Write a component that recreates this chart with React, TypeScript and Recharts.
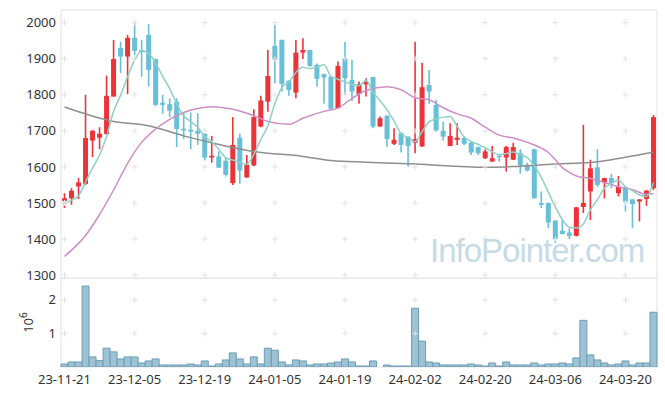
import { ComposedChart, Bar, Line, XAxis, YAxis, CartesianGrid, ReferenceDot } from 'recharts';

// trading days, 23-11-21 .. 24-03-26
const dates = [
  '23-11-21', '23-11-22', '23-11-23', '23-11-24', '23-11-27', '23-11-28', '23-11-29', '23-11-30',
  '23-12-01', '23-12-04', '23-12-05', '23-12-06', '23-12-07', '23-12-08', '23-12-11', '23-12-12',
  '23-12-13', '23-12-14', '23-12-15', '23-12-18', '23-12-19', '23-12-20', '23-12-21', '23-12-22',
  '23-12-26', '23-12-27', '23-12-28',
  '24-01-02', '24-01-03', '24-01-04', '24-01-05', '24-01-08', '24-01-09', '24-01-10', '24-01-11',
  '24-01-12', '24-01-15', '24-01-16', '24-01-17', '24-01-18', '24-01-19', '24-01-22', '24-01-23',
  '24-01-24', '24-01-25', '24-01-26', '24-01-29', '24-01-30', '24-01-31',
  '24-02-01', '24-02-02', '24-02-05', '24-02-06', '24-02-07', '24-02-08', '24-02-13', '24-02-14',
  '24-02-15', '24-02-16', '24-02-19', '24-02-20', '24-02-21', '24-02-22', '24-02-23', '24-02-26',
  '24-02-27', '24-02-28', '24-02-29',
  '24-03-04', '24-03-05', '24-03-06', '24-03-07', '24-03-08', '24-03-11', '24-03-12', '24-03-13',
  '24-03-14', '24-03-15', '24-03-18', '24-03-19', '24-03-20', '24-03-21', '24-03-22', '24-03-25',
  '24-03-26',
];

const opens = [
  1506, 1513, 1546, 1553, 1673, 1681, 1691, 1795, 1930, 1906, 1958, 1924, 1966, 1899, 1778, 1774,
  1780, 1706, 1703, 1700, 1692, 1626, 1629, 1617, 1555, 1681, 1571, 1604, 1712, 1781, 1935, 1952,
  1839, 1806, 1917, 1924, 1883, 1857, 1850, 1763, 1901, 1841, 1802, 1829, 1849, 1712, 1742, 1664,
  1694, 1684, 1667, 1657, 1827, 1772, 1700, 1658, 1675, 1680, 1667, 1655, 1624, 1615, 1631, 1626,
  1620, 1638, 1606, 1649, 1500, 1500, 1451, 1423, 1418, 1409, 1489, 1532, 1599, 1557, 1569, 1527,
  1544, 1510, 1504, 1511, 1541,
];
const highs = [
  1527, 1541, 1569, 1800, 1702, 1710, 1853, 1952, 1947, 1966, 2003, 1952, 1996, 1900, 1800, 1790,
  1790, 1749, 1751, 1749, 1693, 1686, 1643, 1624, 1738, 1692, 1633, 1760, 1797, 1924, 1994, 1953,
  1840, 1952, 1957, 1925, 1887, 1858, 1851, 1892, 1946, 1897, 1837, 1846, 1850, 1740, 1743, 1707,
  1695, 1685, 1947, 1889, 1869, 1786, 1726, 1721, 1721, 1684, 1670, 1656, 1649, 1658, 1632, 1658,
  1667, 1649, 1612, 1650, 1532, 1501, 1452, 1455, 1430, 1489, 1717, 1620, 1649, 1570, 1581, 1575,
  1545, 1511, 1511, 1536, 1744,
];
const lows = [
  1486, 1495, 1511, 1550, 1627, 1649, 1689, 1795, 1860, 1802, 1910, 1850, 1823, 1768, 1747, 1738,
  1655, 1677, 1649, 1661, 1618, 1612, 1597, 1573, 1550, 1553, 1569, 1602, 1710, 1753, 1832, 1809,
  1797, 1790, 1899, 1878, 1823, 1775, 1760, 1761, 1800, 1783, 1775, 1795, 1707, 1711, 1655, 1661,
  1640, 1601, 1638, 1655, 1775, 1698, 1673, 1657, 1661, 1661, 1633, 1633, 1622, 1614, 1615, 1587,
  1619, 1581, 1587, 1512, 1486, 1430, 1389, 1413, 1400, 1407, 1472, 1453, 1544, 1513, 1541, 1518,
  1476, 1430, 1449, 1492, 1536,
];
const closes = [
  1513, 1534, 1557, 1680, 1700, 1692, 1797, 1899, 1906, 1958, 1922, 1918, 1869, 1772, 1772, 1756,
  1705, 1701, 1698, 1692, 1626, 1631, 1598, 1578, 1661, 1590, 1606, 1738, 1784, 1852, 1897, 1830,
  1813, 1917, 1924, 1880, 1844, 1848, 1761, 1880, 1846, 1809, 1829, 1835, 1712, 1735, 1677, 1675,
  1661, 1658, 1677, 1821, 1809, 1701, 1684, 1686, 1681, 1664, 1640, 1638, 1643, 1624, 1627, 1655,
  1655, 1604, 1590, 1513, 1495, 1446, 1400, 1414, 1409, 1488, 1500, 1596, 1550, 1569, 1555, 1545,
  1504, 1497, 1510, 1534, 1738,
];

// volume, millions of shares
const volumes = [
  0.09, 0.15, 0.15, 2.41, 0.3, 0.19, 0.56, 0.45, 0.24, 0.3, 0.3, 0.12, 0.18, 0.24, 0.06, 0.06,
  0.06, 0.06, 0.09, 0.06, 0.18, 0.03, 0.09, 0.21, 0.42, 0.24, 0.09, 0.3, 0.09, 0.56, 0.5, 0.15,
  0.06, 0.21, 0.18, 0.06, 0.09, 0.09, 0.12, 0.15, 0.24, 0.15, 0.03, 0.03, 0.18, 0, 0.06, 0.03,
  0.03, 0.03, 1.75, 0.77, 0.15, 0.12, 0.06, 0.06, 0.06, 0.06, 0.09, 0.06, 0.03, 0.12, 0.03, 0.15,
  0.06, 0.06, 0.06, 0.12, 0.06, 0.09, 0.09, 0.12, 0.09, 0.27, 1.39, 0.36, 0.21, 0.12, 0.06, 0.09,
  0.18, 0.06, 0.12, 0.12, 1.63,
];

// moving averages
const ma5 = [
  1498, 1508, 1520, 1558, 1597, 1633, 1685, 1754, 1799, 1850, 1896, 1921, 1915, 1888, 1851, 1817,
  1775, 1741, 1726, 1710, 1684, 1670, 1649, 1625, 1619, 1612, 1607, 1635, 1676, 1714, 1775, 1820,
  1835, 1862, 1876, 1873, 1876, 1883, 1851, 1843, 1836, 1829, 1825, 1840, 1806, 1784, 1758, 1727,
  1692, 1681, 1670, 1698, 1725, 1733, 1738, 1740, 1712, 1683, 1671, 1662, 1653, 1642, 1634, 1637,
  1641, 1633, 1626, 1603, 1571, 1530, 1489, 1454, 1433, 1431, 1442, 1481, 1509, 1541, 1554, 1563,
  1545, 1534, 1522, 1518, 1557,
];
const ma20: [number, number][] = [
  [0, 1352], [2, 1388], [3, 1410], [5, 1468], [7, 1536], [9, 1610], [11, 1668], [13, 1705],
  [15, 1732], [17, 1751], [19, 1762], [21, 1767], [24, 1760], [27, 1742], [29, 1726], [32, 1718],
  [34, 1735], [37, 1754], [39, 1763], [41, 1790], [43, 1812], [46, 1822], [48, 1814], [50, 1792],
  [52, 1786], [54, 1764], [56, 1747], [58, 1735], [60, 1710], [62, 1688], [64, 1680], [66, 1668],
  [68, 1652], [69, 1640], [70, 1620], [71, 1598], [72, 1585], [73, 1575], [75, 1568], [77, 1557],
  [79, 1545], [81, 1537], [83, 1524], [84, 1526],
];
const ma60: [number, number][] = [
  [0, 1766], [7, 1726], [12, 1714], [17, 1686], [21, 1667], [27, 1643], [34, 1629], [38, 1618],
  [43, 1613], [50, 1608], [60, 1599], [64, 1601], [70, 1608], [75, 1612], [80, 1627], [84, 1641],
];

const priceTicks = [1300, 1400, 1500, 1600, 1700, 1800, 1900, 2000];
const volTicks = [1, 2];

const RED = '#ec3338';
const BLUE = '#68bfd8';
const FONT = '"Noto Sans", "DejaVu Sans", sans-serif';

const ma20At = new Map(ma20);
const ma60At = new Map(ma60);

const rows = dates.map((date, i) => ({
  date,
  open: opens[i],
  high: highs[i],
  low: lows[i],
  close: closes[i],
  vol: volumes[i],
  ma5: ma5[i],
  ma20: ma20At.has(i) ? ma20At.get(i) : null,
  ma60: ma60At.has(i) ? ma60At.get(i) : null,
}));

const gridDates = dates.filter((_, i) => i % 10 === 0);

const Candle = (props: any) => {
  const { x, y, width, height, payload } = props;
  const { open, close, high, low } = payload;
  const top = Math.min(y, y + height);
  const h = Math.abs(height);
  const k = high === low ? 0 : h / (high - low);
  const py = (v: number) => top + (high - v) * k;
  const color = close >= open ? RED : BLUE;
  const cx = x + width / 2;
  const bTop = py(Math.max(open, close));
  const bH = Math.max(1.5, py(Math.min(open, close)) - bTop);
  return (
    <g>
      <line x1={cx} x2={cx} y1={top} y2={top + h} stroke={color} strokeWidth={1.6} />
      <rect x={x} y={bTop} width={width} height={bH} fill={color} />
    </g>
  );
};

const Cross = (props: any) => {
  const { cx, cy } = props;
  return (
    <path d={`M${cx - 3},${cy}H${cx + 3}M${cx},${cy - 3}V${cy + 3}`} stroke="#e2e2e2" strokeWidth={1} />
  );
};

const frameH = ({ offset }: any) => [offset.top, offset.top + offset.height];
const frameV = ({ offset }: any) => [offset.left, offset.left + offset.width];

const VolLabel = (props: any) => {
  const { viewBox } = props;
  const cx = viewBox.x + 33;
  const cy = viewBox.y + viewBox.height / 2;
  return (
    <text
      x={cx}
      y={cy}
      transform={`rotate(-90, ${cx}, ${cy})`}
      textAnchor="middle"
      fontFamily={FONT}
      fontSize={13}
      fill="#333"
    >
      <tspan>10</tspan>
      <tspan dy={-6} fontSize={10}>6</tspan>
    </text>
  );
};

export default function App() {
  return (
    <div style={{ position: 'absolute', left: 0, top: 0, width: 665, height: 396, background: '#fff', fontFamily: FONT }}>
      <div style={{ position: 'absolute', left: 0, top: 0 }}>
        <ComposedChart width={665} height={292} data={rows} margin={{ top: 10, right: 8, left: 0, bottom: 14 }}>
          <CartesianGrid
            stroke="#e2e2e2"
            horizontalCoordinatesGenerator={frameH}
            verticalCoordinatesGenerator={frameV}
          />
          <XAxis dataKey="date" hide />
          <YAxis
            domain={[1292, 2035]}
            ticks={priceTicks}
            interval={0}
            allowDataOverflow
            width={61}
            axisLine={false}
            tickLine={false}
            tickSize={5}
            tickMargin={0}
            tick={{ fill: '#333', fontSize: 13, fontFamily: FONT }}
          />
          {gridDates.map((d) =>
            priceTicks.map((p) => (
              <ReferenceDot key={d + p} x={d} y={p} shape={<Cross />} ifOverflow="visible" />
            ))
          )}
          <Bar dataKey={(d: any) => [d.low, d.high]} barSize={5} shape={<Candle />} isAnimationActive={false} />
          <Line type="monotone" dataKey="ma60" stroke="#8e8e8e" strokeWidth={1.5} dot={false} connectNulls isAnimationActive={false} />
          <Line type="monotone" dataKey="ma20" stroke="#cc8ec5" strokeWidth={1.5} dot={false} connectNulls isAnimationActive={false} />
          <Line type="monotone" dataKey="ma5" stroke="#8fd0c6" strokeWidth={1.5} dot={false} isAnimationActive={false} />
        </ComposedChart>
      </div>
      <div style={{ position: 'absolute', left: 0, top: 278 }}>
        <ComposedChart width={665} height={118} data={rows} margin={{ top: 0, right: 8, left: 0, bottom: 0 }} barCategoryGap={0}>
          <CartesianGrid
            stroke="#e2e2e2"
            horizontalCoordinatesGenerator={frameH}
            verticalCoordinatesGenerator={frameV}
          />
          <XAxis
            dataKey="date"
            interval={9}
            height={29}
            axisLine={false}
            tickLine={false}
            tick={{ fill: '#333', fontSize: 13, fontFamily: FONT }}
          />
          <YAxis
            domain={[0, 2.65]}
            ticks={volTicks}
            interval={0}
            allowDataOverflow
            width={61}
            axisLine={false}
            tickLine={false}
            tickSize={5}
            tickMargin={0}
            tick={{ fill: '#333', fontSize: 13, fontFamily: FONT }}
            label={<VolLabel />}
          />
          {gridDates.map((d) =>
            volTicks.map((v) => (
              <ReferenceDot key={d + v} x={d} y={v} shape={<Cross />} ifOverflow="visible" />
            ))
          )}
          <Bar dataKey="vol" fill="#9cc2d3" stroke="#6d9db5" strokeWidth={1} isAnimationActive={false} />
        </ComposedChart>
      </div>
      <div
        style={{
          position: 'absolute',
          left: 430,
          top: 232,
          fontSize: 33,
          letterSpacing: -1,
          color: '#c6dbe6',
          fontFamily: '"Liberation Sans", Arial, sans-serif',
          whiteSpace: 'nowrap',
          pointerEvents: 'none',
        }}
      >
        InfoPointer.com
      </div>
    </div>
  );
}
